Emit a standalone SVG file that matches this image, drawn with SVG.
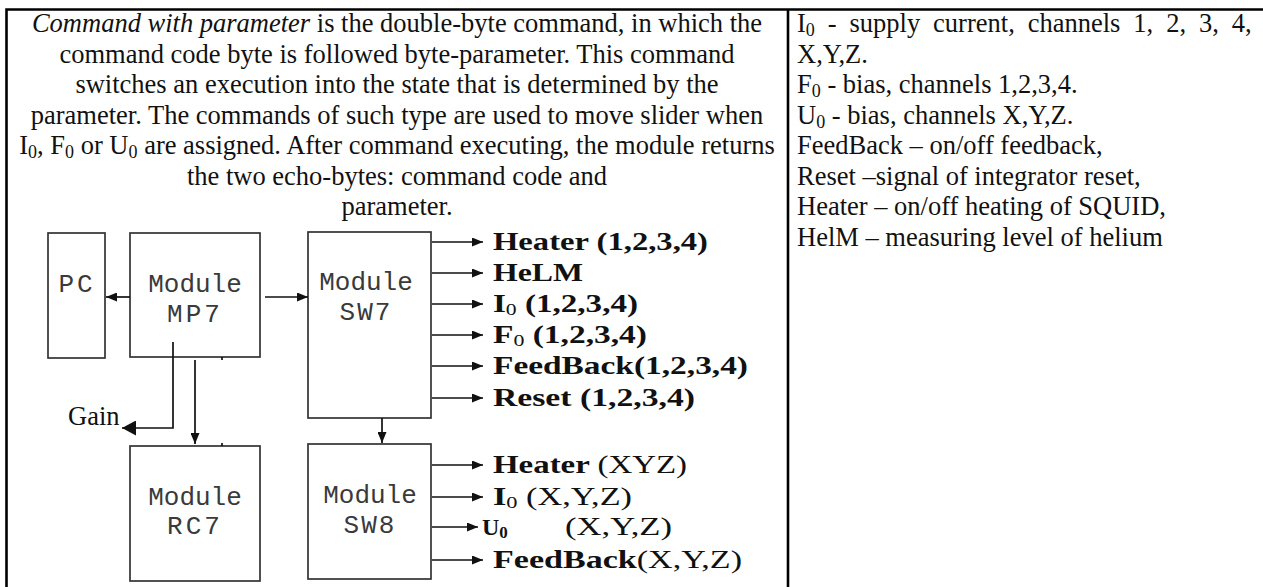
<svg xmlns="http://www.w3.org/2000/svg" width="1263" height="587" viewBox="0 0 1263 587">
<style>
.t{font-family:"Liberation Serif","Times New Roman",serif;font-size:26.5px;fill:#111}
.m{font-family:"Liberation Mono","Courier New",monospace;font-size:26px;fill:#3a3a3a;text-anchor:middle}
.lb{font-family:"Liberation Serif","Times New Roman",serif;font-size:26px;font-weight:bold;fill:#111}
.nb{font-weight:normal}
.box{fill:#fff;stroke:#333;stroke-width:1.7}
.c{fill:none;stroke:#111;stroke-width:1.7}
.border{fill:none;stroke:#000;stroke-width:2.6}
</style>
<defs>
<marker id="a" markerUnits="userSpaceOnUse" markerWidth="11" markerHeight="9" refX="11" refY="4.5" orient="auto"><path d="M0,0 L11,4.5 L0,9 z" fill="#111"/></marker>
<marker id="ab" markerUnits="userSpaceOnUse" markerWidth="14" markerHeight="15" refX="14" refY="7.5" orient="auto"><path d="M0,0 L14,7.5 L0,15 z" fill="#111"/></marker>
</defs>
<rect width="1263" height="587" fill="#fff"/>
<g id="table">
<path class="border" d="M6.5,587 V9.5 H1263 M788,9.5 V587"/>
</g>
<g id="description" class="t" text-anchor="middle">
<text x="397" y="32"><tspan font-style="italic">Command with parameter</tspan> is the double-byte command, in which the</text>
<text x="397" y="62.5">command code byte is followed byte-parameter. This command</text>
<text x="397" y="93">switches an execution into the state that is determined by the</text>
<text x="397" y="123.5">parameter. The commands of such type are used to move slider when</text>
<text x="397" y="154">I<tspan font-size="18" dy="4">0</tspan><tspan dy="-4">, F</tspan><tspan font-size="18" dy="4">0</tspan><tspan dy="-4"> or U</tspan><tspan font-size="18" dy="4">0</tspan><tspan dy="-4"> are assigned. After command executing, the module returns</tspan></text>
<text x="397" y="184.5">the two echo-bytes: command code and</text>
<text x="397" y="215">parameter.</text>
</g>
<g id="legend" class="t">
<text x="797" y="32" word-spacing="6.3">I<tspan font-size="18" dy="4">0</tspan><tspan dy="-4"> - supply current, channels 1, 2, 3, 4,</tspan></text>
<text x="797" y="62.5">X,Y,Z.</text>
<text x="797" y="93">F<tspan font-size="18" dy="4">0</tspan><tspan dy="-4"> - bias, channels 1,2,3,4.</tspan></text>
<text x="797" y="123.5">U<tspan font-size="18" dy="4">0</tspan><tspan dy="-4"> - bias, channels X,Y,Z.</tspan></text>
<text x="797" y="154">FeedBack – on/off feedback,</text>
<text x="797" y="184.5">Reset –signal of integrator reset,</text>
<text x="797" y="215">Heater – on/off heating of SQUID,</text>
<text x="797" y="245.5">HelM – measuring level of helium</text>
</g>
<g id="pc"><rect class="box" x="48" y="233" width="57" height="125"/><text class="m" x="77" y="292" letter-spacing="3">PC</text></g>
<g id="mp7"><rect class="box" x="130" y="233" width="130" height="124"/><text class="m" x="195" y="292">Module</text><text class="m" x="195" y="322" letter-spacing="3">MP7</text></g>
<g id="sw7"><rect class="box" x="308" y="232" width="123" height="186"/><text class="m" x="366" y="290">Module</text><text class="m" x="366" y="320" letter-spacing="2">SW7</text></g>
<g id="rc7"><rect class="box" x="130" y="446" width="130" height="135"/><text class="m" x="195" y="505">Module</text><text class="m" x="195" y="534" letter-spacing="3">RC7</text></g>
<g id="sw8"><rect class="box" x="308" y="444" width="123" height="135"/><text class="m" x="370" y="503">Module</text><text class="m" x="370" y="533" letter-spacing="2">SW8</text></g>
<g id="gain"><text class="t" x="68" y="425">Gain</text></g>
<g id="connectors">
<line class="c" x1="130" y1="297" x2="106" y2="297" marker-end="url(#a)"/>
<line class="c" x1="265" y1="297" x2="308" y2="297" marker-end="url(#a)"/>
<polyline class="c" stroke-width="2" points="173,342 173,428 122,428" marker-end="url(#ab)"/>
<line class="c" x1="195" y1="360" x2="195" y2="444" marker-end="url(#a)"/>
<line class="c" x1="382" y1="418" x2="382" y2="443" marker-end="url(#a)"/>
<line class="c" stroke-width="1" x1="222" y1="357" x2="222" y2="360"/>
<line class="c" stroke-width="1" x1="222" y1="443" x2="222" y2="446"/>
<g marker-end="url(#a)">
<line class="c" x1="432" y1="242" x2="483" y2="242"/>
<line class="c" x1="432" y1="273" x2="483" y2="273"/>
<line class="c" x1="432" y1="304" x2="483" y2="304"/>
<line class="c" x1="432" y1="335" x2="483" y2="335"/>
<line class="c" x1="432" y1="366" x2="483" y2="366"/>
<line class="c" x1="432" y1="398" x2="483" y2="398"/>
<line class="c" x1="432" y1="465" x2="483" y2="465"/>
<line class="c" x1="432" y1="497" x2="483" y2="497"/>
<line class="c" x1="432" y1="527" x2="478" y2="527"/>
<line class="c" x1="432" y1="560" x2="483" y2="560"/>
</g>
</g>
<g id="outputs" class="lb">
<text x="493" y="250" textLength="215" lengthAdjust="spacingAndGlyphs">Heater (1,2,3,4)</text>
<text x="493" y="281" textLength="90" lengthAdjust="spacingAndGlyphs">HeLM</text>
<text x="493" y="312" textLength="145" lengthAdjust="spacingAndGlyphs">I<tspan class="nb" font-size="17" dy="3">0</tspan><tspan dy="-3"> (1,2,3,4)</tspan></text>
<text x="493" y="343" textLength="154" lengthAdjust="spacingAndGlyphs">F<tspan class="nb" font-size="17" dy="3">0</tspan><tspan dy="-3"> (1,2,3,4)</tspan></text>
<text x="493" y="374" textLength="255" lengthAdjust="spacingAndGlyphs">FeedBack(1,2,3,4)</text>
<text x="493" y="406" textLength="202" lengthAdjust="spacingAndGlyphs">Reset (1,2,3,4)</text>
<text x="493" y="473" textLength="194" lengthAdjust="spacingAndGlyphs">Heater <tspan class="nb">(XYZ)</tspan></text>
<text x="493" y="505" textLength="139" lengthAdjust="spacingAndGlyphs">I<tspan class="nb" font-size="17" dy="3">0</tspan><tspan class="nb" dy="-3"> (X,Y,Z)</tspan></text>
<text x="482" y="535" font-size="24">U<tspan font-size="17" dy="3">0</tspan></text>
<text x="565" y="535" class="nb" textLength="107" lengthAdjust="spacingAndGlyphs">(X,Y,Z)</text>
<text x="493" y="568" textLength="249" lengthAdjust="spacingAndGlyphs">FeedBack<tspan class="nb">(X,Y,Z)</tspan></text>
</g>
</svg>
